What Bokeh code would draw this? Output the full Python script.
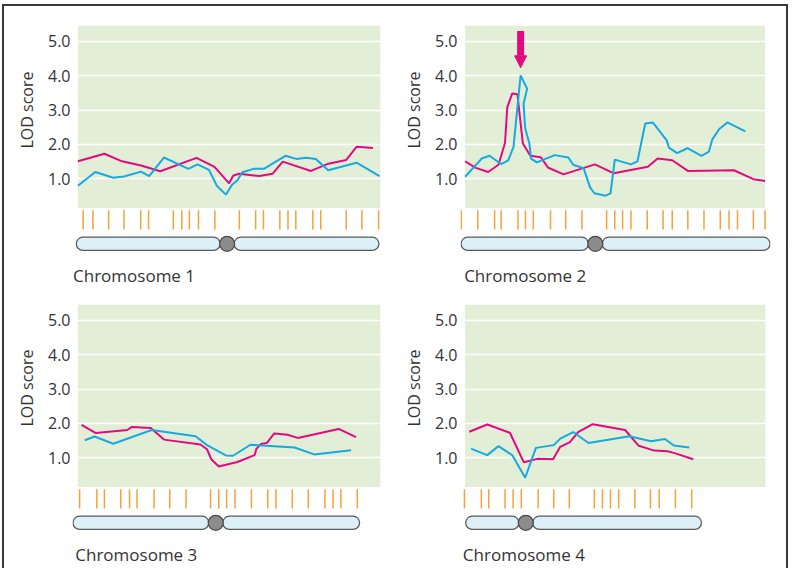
import numpy as np
from bokeh.plotting import figure
from bokeh.layouts import column, row
from bokeh.models import Range1d, FixedTicker, PrintfTickFormatter, Title, Arrow, NormalHead
from bokeh.core.properties import value
from bokeh.embed import file_html
from bokeh.resources import INLINE

# ---------------- data (position along chromosome, LOD score) ----------------
chr1_pink_x = [0, 27, 45, 64.3, 84, 121, 139.3, 154.3, 158.3, 164.3, 185.3, 198.7, 209, 237.7, 254.3, 273.7, 284.3, 301]
chr1_pink_y = [1.51, 1.73, 1.51, 1.39, 1.22, 1.61, 1.35, 0.87, 1.09, 1.15, 1.08, 1.15, 1.50, 1.23, 1.43, 1.55, 1.93, 1.90]
chr1_blue_x = [0, 17.7, 36, 47, 64.3, 72.7, 87.7, 112.7, 122, 133.7, 141.7, 151, 157, 162.7, 167.7, 179.3, 189.7, 211.7, 222.7, 232.7, 242.7, 255.3, 284.3, 307.7]
chr1_blue_y = [0.80, 1.20, 1.03, 1.07, 1.21, 1.08, 1.62, 1.29, 1.42, 1.26, 0.80, 0.54, 0.82, 0.96, 1.19, 1.29, 1.29, 1.67, 1.58, 1.61, 1.58, 1.25, 1.47, 1.08]
chr1_markers = [5.3, 15.3, 31.3, 47, 64, 72, 97.3, 106, 113.7, 123, 139.7, 164.7, 181.3, 189.3, 206, 214.3, 222.3, 239.7, 247.7, 273.7, 289.7, 306.7]
chr1_chrom = [-2.3, 152.2, 307.7]          # start, centromere, end

chr2_pink_x = [0, 11, 23.7, 34.3, 41, 43.3, 48.3, 53.7, 59.3, 67, 77.7, 85, 101, 133.3, 152.7, 187.7, 197.7, 212.7, 228.7, 276, 296, 308]
chr2_pink_y = [1.51, 1.32, 1.20, 1.41, 2.05, 3.08, 3.48, 3.46, 2.03, 1.67, 1.63, 1.33, 1.13, 1.42, 1.16, 1.35, 1.59, 1.54, 1.23, 1.25, 0.99, 0.94]
chr2_blue_x = [0, 17, 25, 37, 44.3, 49.7, 57, 63.7, 60, 61.7, 66, 67.7, 73.7, 92, 106, 111, 121.7, 128.3, 132.7, 144.3,
               149.3, 153.7, 170.3, 177, 185, 192.7, 207, 209.3, 217.7, 228.3, 242.7, 250.3, 253.7, 261, 269.3, 287.7]
chr2_blue_y = [1.06, 1.59, 1.67, 1.43, 1.54, 1.93, 4.01, 3.62, 3.18, 2.47, 2.03, 1.59, 1.48, 1.69, 1.62, 1.41, 1.31, 0.75, 0.58, 0.51,
               0.58, 1.56, 1.42, 1.51, 2.61, 2.64, 2.12, 1.91, 1.75, 1.89, 1.67, 1.79, 2.14, 2.45, 2.64, 2.38]
chr2_markers = [-4, 13, 30.3, 37, 54.3, 62, 70, 87.7, 103.3, 120, 145.3, 153.7, 161.7, 170.3, 187, 203.3, 212.7, 228.7, 245.3, 262, 271, 279.7, 296, 308]
chr2_chrom = [-4.7, 133.7, 313.7]

chr3_pink_x = [3.7, 18.3, 50.3, 55, 74.3, 87.7, 125, 131.7, 136, 143.7, 162.7, 180.3, 182, 186.7, 192.7, 200.3, 213.7, 224.3, 266, 283.7]
chr3_pink_y = [1.96, 1.72, 1.81, 1.90, 1.87, 1.53, 1.39, 1.25, 0.96, 0.75, 0.88, 1.08, 1.26, 1.40, 1.43, 1.71, 1.67, 1.58, 1.84, 1.60]
chr3_blue_x = [7, 17, 36, 75.3, 120, 131.7, 151, 158.3, 176, 221, 241, 278.7]
chr3_blue_y = [1.51, 1.62, 1.41, 1.81, 1.63, 1.37, 1.07, 1.06, 1.38, 1.30, 1.10, 1.22]
chr3_markers = [1.7, 19.3, 27, 43.7, 52.7, 60.3, 77.7, 93.7, 110.3, 135.3, 143.7, 151.7, 160.3, 177, 193.7, 202, 218.7, 235, 252, 260.3, 268.3, 285]
chr3_chrom = [-5.7, 140.6, 288]

chr4_pink_x = [4.3, 22.7, 46, 60.3, 74.3, 90.3, 97.7, 107.7, 116, 131, 164.3, 178.3, 194.3, 207.7, 216, 234.3]
chr4_pink_y = [1.76, 1.97, 1.73, 0.87, 0.97, 0.96, 1.32, 1.46, 1.75, 1.98, 1.81, 1.35, 1.21, 1.19, 1.13, 0.96]
chr4_blue_x = [6, 22.7, 34.3, 48.3, 61.7, 72.7, 91, 97.7, 111, 126.7, 168.7, 191, 205.3, 214.3, 230.3]
chr4_blue_y = [1.27, 1.08, 1.34, 1.08, 0.42, 1.29, 1.37, 1.56, 1.75, 1.43, 1.63, 1.48, 1.55, 1.36, 1.30]
chr4_markers = [-0.7, 16.7, 24.3, 41, 49.3, 57.7, 75, 91, 107, 132.7, 141, 149.3, 157.7, 174.3, 190.3, 199.3, 216, 232.7]
chr4_chrom = [0, 62.3, 243.3]

labels = ["Chromosome 1", "Chromosome 2", "Chromosome 3", "Chromosome 4"]
lod_ticks = [1, 2, 3, 4, 5]
y_axis_label = "LOD score"

# ---------------- style / layout constants ----------------
PINK = "#e5097f"
BLUE = "#17a9e1"
GREEN = "#e2efd6"
ORANGE = "#f6a13a"
BAR_FILL = "#ddf0f8"
BAR_EDGE = "#5a5a5a"
CEN_FILL = "#8c8c8c"
CEN_EDGE = "#4a4a4a"
TEXT = "#333333"
FONT = "Open Sans"

SX = 790 / 806          # page scale (reference px -> output px)
SY = 568 / 584
PX_PER_LOD = 35.35 * SY
Y_TOP = 5.46
GREEN_BOTTOM = 0.15
TICK_TOP, TICK_BOTTOM = 0.09, -0.47
BAR_Y = -0.89
LABEL_Y = -1.80
BAR_W = 14.5
ARM_R = 7.25 / SX
CEN_GAP = 6.5

COL_X = [4, 395]
ROW_Y = [6, 292]
FIG_W = 391
FIG_H = [286, 276]
GREEN_TOP_REF = [26, 313]
LOD_OFFSET = [46, 45]


def make_panel(label, pink_x, pink_y, blue_x, blue_y, markers, chrom, col, rw,
               green_left_ref, green_w, frame_left_ref, frame_right_ref,
               tick_standoff, label_x, arrow=False):
    cx, ry, fh = COL_X[col], ROW_Y[rw], FIG_H[rw]
    L = round(frame_left_ref * SX) - cx
    R = round(frame_right_ref * SX) - cx
    top = round(GREEN_TOP_REF[rw] * SY) - ry
    x_lo = (cx + L) / SX - green_left_ref
    x_hi = (cx + R) / SX - green_left_ref
    frame_h = fh - top
    p = figure(width=FIG_W, height=fh,
               x_range=Range1d(x_lo, x_hi),
               y_range=Range1d(Y_TOP - frame_h / PX_PER_LOD, Y_TOP),
               min_border_left=L, min_border_right=FIG_W - R,
               min_border_top=top, min_border_bottom=0,
               x_axis_location=None, toolbar_location=None, output_backend="svg",
               background_fill_color="white", border_fill_color="white",
               outline_line_color=None)

    ax = p.yaxis[0]
    ax.ticker = FixedTicker(ticks=lod_ticks)
    ax.formatter = PrintfTickFormatter(format="%.1f")
    ax.axis_line_color = None
    ax.major_tick_line_color = None
    ax.minor_tick_line_color = None
    ax.major_tick_out = 0
    ax.major_tick_in = 0
    ax.major_label_standoff = tick_standoff
    ax.major_label_text_font = FONT
    ax.major_label_text_font_size = "16px"
    ax.major_label_text_color = TEXT

    for g in p.grid:
        if g.dimension == 0:
            g.visible = False
            g.grid_line_color = None
        else:
            g.ticker = FixedTicker(ticks=lod_ticks)
            g.grid_line_color = "white"
            g.grid_line_width = 1.5

    p.quad(left=[0], right=[green_w], bottom=[GREEN_BOTTOM], top=[Y_TOP],
           fill_color=GREEN, line_color=None, level="image")

    n = len(markers)
    p.segment(x0=markers, x1=markers, y0=[TICK_TOP] * n, y1=[TICK_BOTTOM] * n,
              line_color=ORANGE, line_width=1.5)

    start, cen, end = chrom
    a0 = [start + ARM_R, cen + CEN_GAP + ARM_R]
    a1 = [cen - CEN_GAP - ARM_R, end - ARM_R]
    p.segment(x0=a0, x1=a1, y0=[BAR_Y] * 2, y1=[BAR_Y] * 2,
              line_color=BAR_EDGE, line_width=BAR_W, line_cap="round")
    p.segment(x0=a0, x1=a1, y0=[BAR_Y] * 2, y1=[BAR_Y] * 2,
              line_color=BAR_FILL, line_width=BAR_W - 2.5, line_cap="round")
    p.scatter(x=[cen], y=[BAR_Y], size=15, marker="circle",
              fill_color=CEN_FILL, line_color=CEN_EDGE, line_width=1.2)

    p.line(pink_x, pink_y, line_color=PINK, line_width=2)
    p.line(blue_x, blue_y, line_color=BLUE, line_width=2)

    p.text(x=[label_x], y=[LABEL_Y], text=[label], text_font=value(FONT),
           text_font_size="17px", text_color=TEXT, text_align="left",
           text_baseline="alphabetic")

    t = Title(text=y_axis_label, align="right", offset=LOD_OFFSET[rw], standoff=12,
              vertical_align="middle", text_font=FONT, text_font_size="16px",
              text_font_style="normal", text_color=TEXT)
    p.add_layout(t, "left")

    if arrow:
        i = int(np.argmax(blue_y))
        tip = blue_y[i] + 0.22
        p.add_layout(Arrow(end=NormalHead(size=12, fill_color=PINK, line_color=PINK),
                           x_start=blue_x[i], y_start=tip + 1.07,
                           x_end=blue_x[i], y_end=tip,
                           line_color=PINK, line_width=7))
    return p


p1 = make_panel(labels[0], chr1_pink_x, chr1_pink_y, chr1_blue_x, chr1_blue_y, chr1_markers, chr1_chrom,
                0, 0, 79, 309, 73, 388, 2, -5)
p2 = make_panel(labels[1], chr2_pink_x, chr2_pink_y, chr2_blue_x, chr2_blue_y, chr2_markers, chr2_chrom,
                1, 0, 472, 308, 467, 786, 3, -1, arrow=True)
p3 = make_panel(labels[2], chr3_pink_x, chr3_pink_y, chr3_blue_x, chr3_blue_y, chr3_markers, chr3_chrom,
                0, 1, 79, 309, 73, 388, 2, -2.7)
p4 = make_panel(labels[3], chr4_pink_x, chr4_pink_y, chr4_blue_x, chr4_blue_y, chr4_markers, chr4_chrom,
                1, 1, 472, 309, 469, 781, 5, -2.3)

border = "2px solid #383838"
inner = column(row(p1, p2), row(p3, p4),
               styles={"border-left": border, "border-top": border, "border-right": border})
layout = column(inner, styles={"padding-left": "2px", "padding-top": "4px"})

open("out.html", "w").write(file_html(layout, INLINE))
